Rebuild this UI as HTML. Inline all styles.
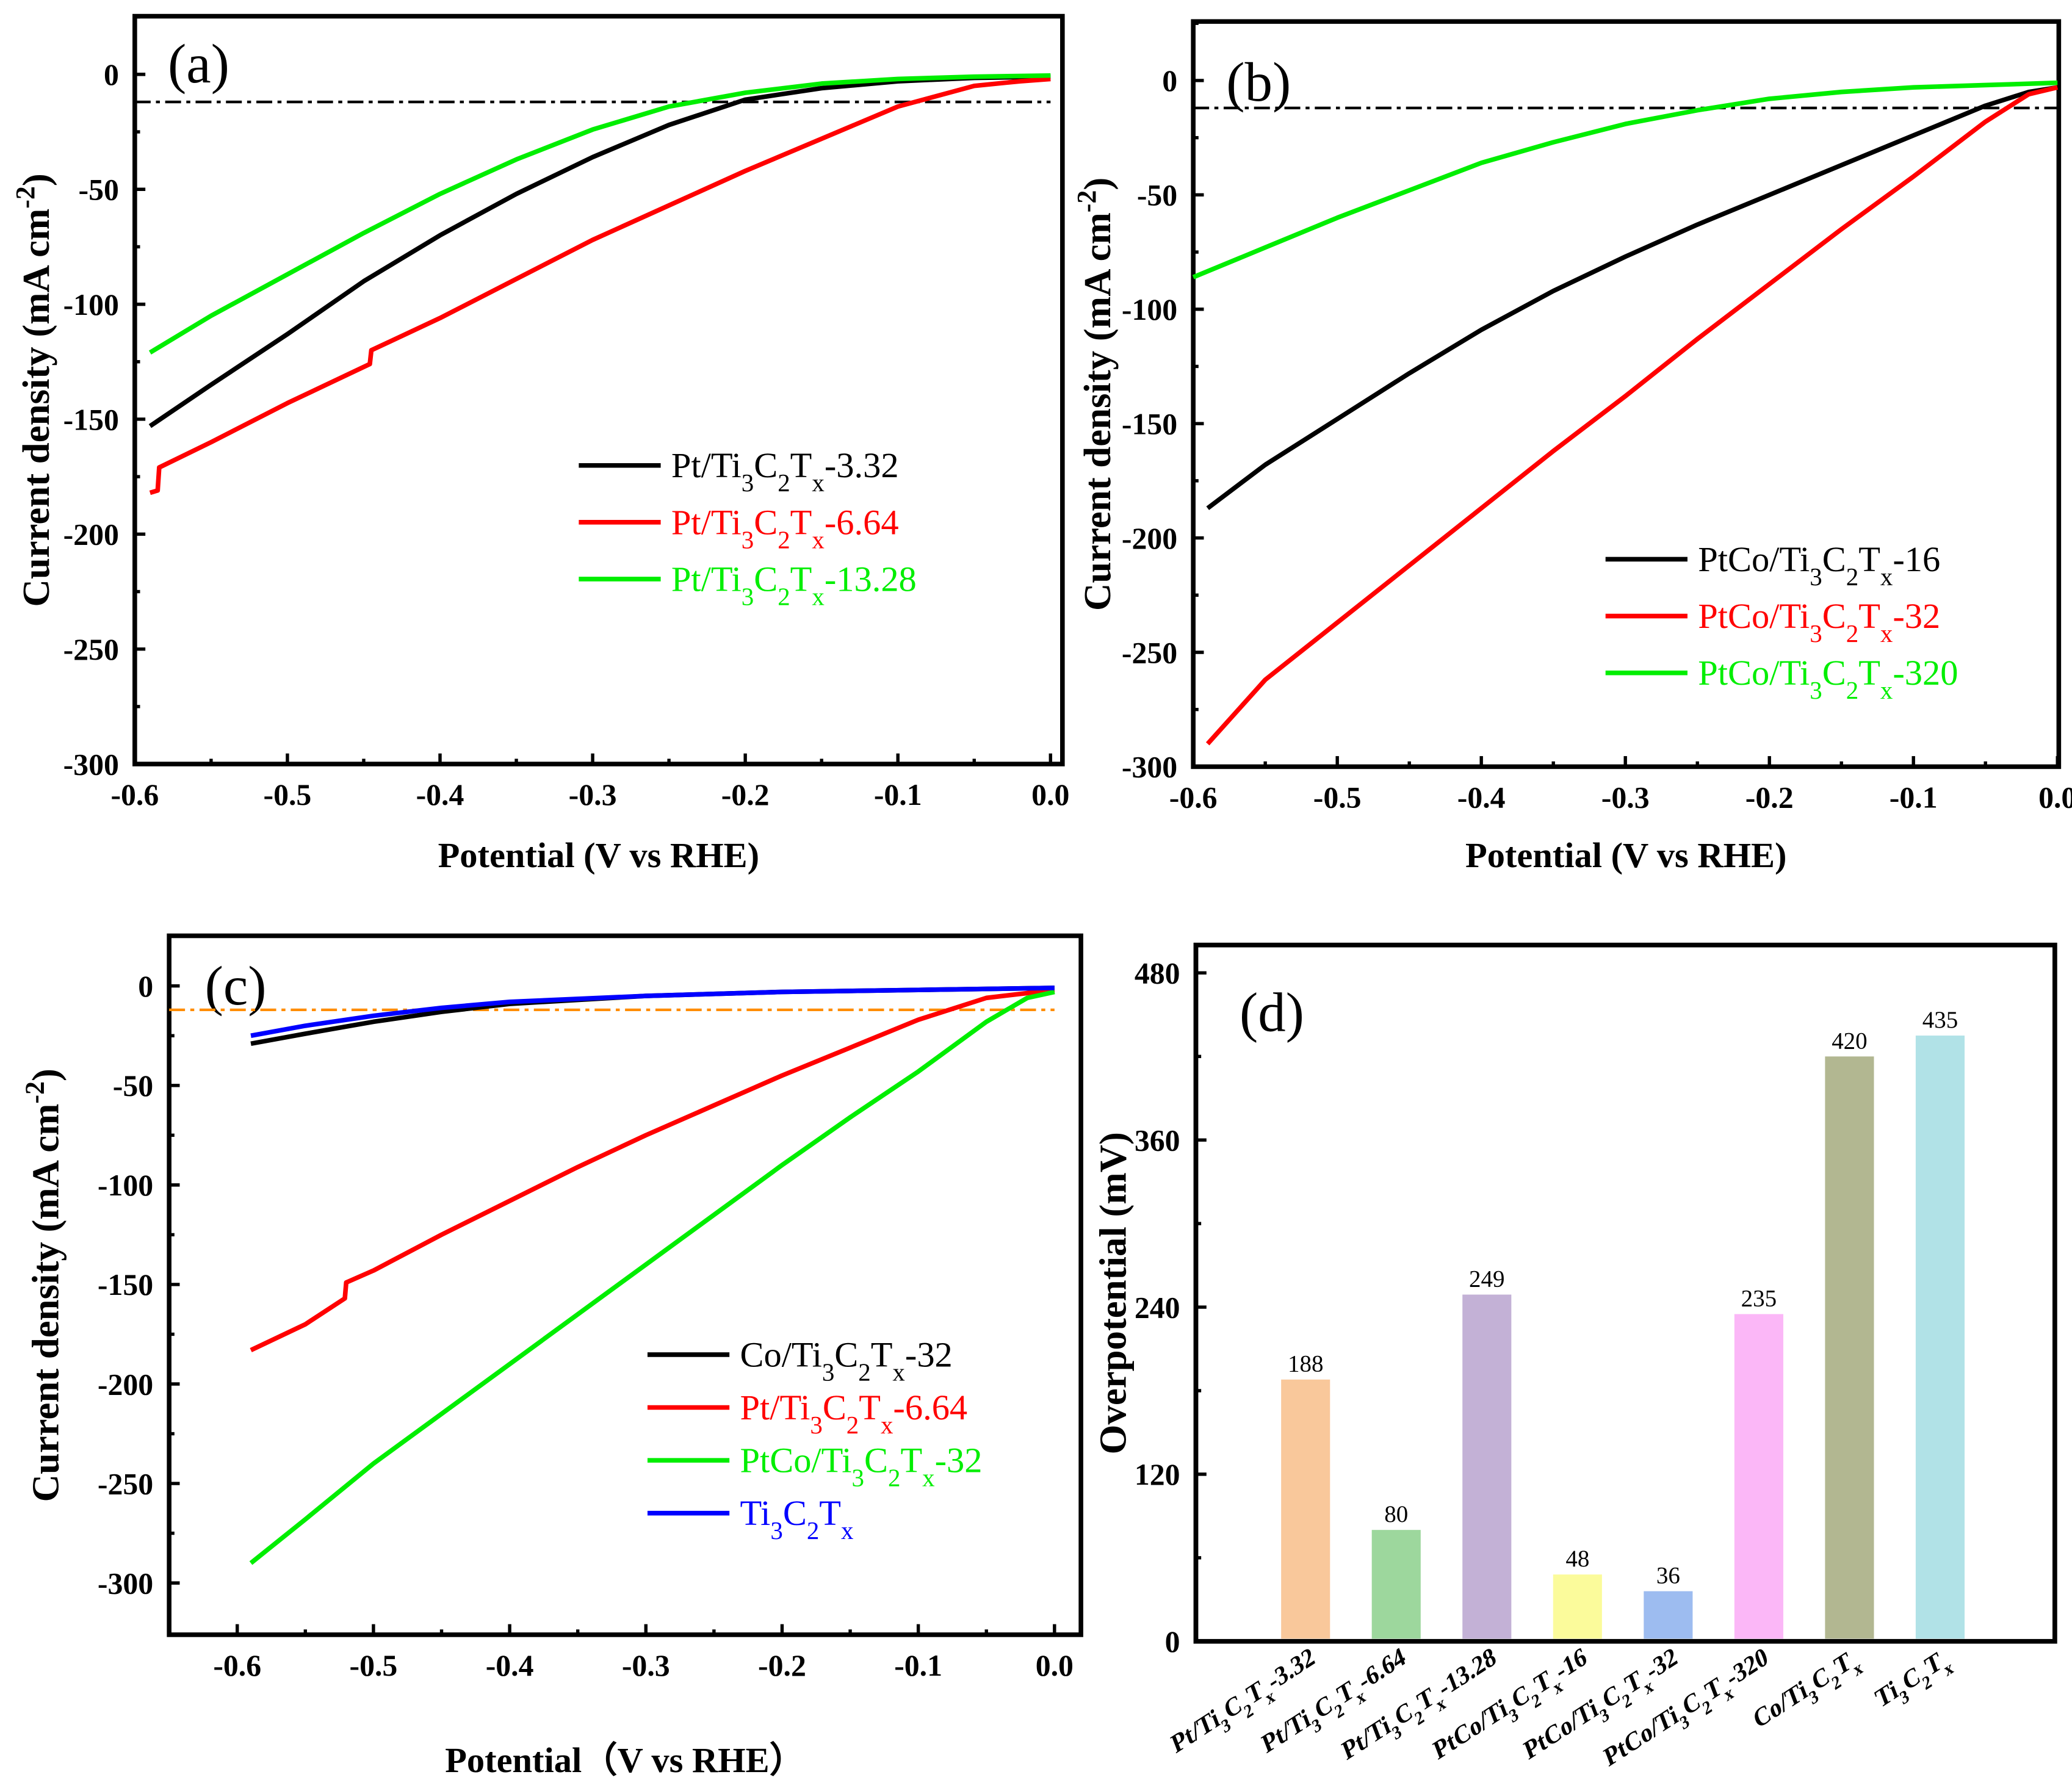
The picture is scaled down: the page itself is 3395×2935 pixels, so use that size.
<!DOCTYPE html>
<html><head><meta charset="utf-8"><style>
html,body{margin:0;padding:0;background:#fff}
svg{display:block;font-family:"Liberation Serif",serif}
svg text{font-family:"Liberation Serif",serif}
</style></head><body>
<svg id="fig" width="3395" height="2935" viewBox="0 0 1568 1355" font-family="Liberation Serif, serif" xmlns="http://www.w3.org/2000/svg"></svg>
<script>
// ---- data (a)
const aBlackX=[-0.59,-0.55,-0.5,-0.45,-0.4,-0.35,-0.3,-0.25,-0.2,-0.15,-0.1,-0.05,0];
const aBlackY=[-153,-135,-113,-90,-70,-52,-36,-22,-11,-6,-3,-1.5,-1];
const aRedX=[-0.59,-0.585,-0.584,-0.55,-0.5,-0.446,-0.445,-0.4,-0.35,-0.3,-0.25,-0.2,-0.15,-0.1,-0.05,-0.02,0];
const aRedY=[-182,-181,-171,-160,-143,-126,-120,-106,-89,-72,-57,-42,-28,-14,-5,-3,-2];
const aGreenX=[-0.59,-0.55,-0.5,-0.45,-0.4,-0.35,-0.3,-0.25,-0.2,-0.15,-0.1,-0.05,0];
const aGreenY=[-121,-105,-87,-69,-52,-37,-24,-14,-8,-4,-2,-1,-0.5];
// ---- data (b)
const bBlackX=[-0.59,-0.55,-0.5,-0.45,-0.4,-0.35,-0.3,-0.25,-0.2,-0.15,-0.1,-0.05,-0.02,0];
const bBlackY=[-187,-168,-148,-128,-109,-92,-77,-63,-50,-37,-24,-11,-5,-3];
const bRedX=[-0.59,-0.55,-0.5,-0.45,-0.4,-0.35,-0.3,-0.25,-0.2,-0.15,-0.1,-0.05,-0.02,0];
const bRedY=[-290,-262,-237,-212,-187,-162,-138,-113,-89,-65,-42,-18,-6,-3];
const bGreenX=[-0.6,-0.55,-0.5,-0.45,-0.4,-0.35,-0.3,-0.25,-0.2,-0.15,-0.1,-0.05,0];
const bGreenY=[-86,-73,-60,-48,-36,-27,-19,-13,-8,-5,-3,-2,-1];
// ---- data (c)
const cCoX=[-0.59,-0.55,-0.5,-0.45,-0.4,-0.3,-0.2,-0.1,0];
const cCoY=[-29,-24,-18,-13,-9,-5,-3,-2,-1];
const cTiX=[-0.59,-0.55,-0.5,-0.45,-0.4,-0.3,-0.2,-0.1,0];
const cTiY=[-25,-20,-15,-11,-8,-5,-3,-2,-1];
const cRedX=[-0.59,-0.55,-0.521,-0.52,-0.5,-0.45,-0.4,-0.35,-0.3,-0.25,-0.2,-0.15,-0.1,-0.05,0];
const cRedY=[-183,-170,-157,-149,-143,-125,-108,-91,-75,-60,-45,-31,-17,-6,-2];
const cGreenX=[-0.59,-0.55,-0.5,-0.45,-0.4,-0.35,-0.3,-0.25,-0.2,-0.15,-0.1,-0.05,-0.02,0];
const cGreenY=[-290,-268,-240,-215,-190,-165,-140,-115,-90,-66,-43,-18,-6,-3];
// ---- data (d)
const dCats=["Pt/Ti3C2Tx-3.32","Pt/Ti3C2Tx-6.64","Pt/Ti3C2Tx-13.28","PtCo/Ti3C2Tx-16","PtCo/Ti3C2Tx-32","PtCo/Ti3C2Tx-320","Co/Ti3C2Tx","Ti3C2Tx"];
const dVals=[188,80,249,48,36,235,420,435];
const dColors=["#f9c89b","#9dd79d","#c3b1d6","#fbfb9b","#9dbcf0","#fbb7f7","#b2b791","#b1e2e7"];
const dTicks=[0,120,240,360,480];

const NS="http://www.w3.org/2000/svg";
const svg=document.getElementById('fig');
function el(tag,attrs,parent){const e=document.createElementNS(NS,tag);for(const k in attrs)e.setAttribute(k,attrs[k]);if(tag==='text')e.setAttribute('font-family','Liberation Serif, serif');(parent||svg).appendChild(e);return e;}
function chem(s){return s.replace(/Ti3C2Tx/g,'Ti<tspan baseline-shift="sub" font-size="70%">3</tspan>C<tspan baseline-shift="sub" font-size="70%">2</tspan>T<tspan baseline-shift="sub" font-size="70%">x</tspan>');}

function panel(cfg){
  const g=el('g',{});
  
  
  const sx=v=>cfg.x0+(v-cfg.xmin)/(cfg.xmax-cfg.xmin)*(cfg.x1-cfg.x0);
  const sy=v=>cfg.y1-(v-cfg.ymin)/(cfg.ymax-cfg.ymin)*(cfg.y1-cfg.y0);
  cfg.sx=sx;cfg.sy=sy;cfg.g=g;
  if(cfg.xticks){cfg.xticks.forEach(t=>{const X=sx(t);
    const l=el('line',{x1:X,x2:X,y1:cfg.y1,y2:cfg.y1-8,stroke:'#000','stroke-width':2.5},g);
    
    const tx=el('text',{x:X,y:cfg.y1+31,'text-anchor':'middle','font-size':23,'font-weight':'bold'},g);tx.textContent=t.toFixed(1);
    });
    const st=(cfg.xticks[1]-cfg.xticks[0])/2;
    for(let t=cfg.xticks[0]+st;t<cfg.xmax;t+=2*st){const X=sx(t);el('line',{x1:X,x2:X,y1:cfg.y1,y2:cfg.y1-4,stroke:'#000','stroke-width':2.5},g);}
  }
  cfg.yticks.forEach(t=>{const Y=sy(t);
    const l=el('line',{x1:cfg.x0,x2:cfg.x0+8,y1:Y,y2:Y,stroke:'#000','stroke-width':2.5},g);
    
    const tx=el('text',{x:cfg.x0-12,y:Y+8,'text-anchor':'end','font-size':23,'font-weight':'bold'},g);tx.textContent=t;
    });
  const yst=(cfg.yticks[1]-cfg.yticks[0])/2;
  for(let t=cfg.yticks[0]+yst;t<cfg.ymax;t+=2*yst){const Y=sy(t);el('line',{x1:cfg.x0,x2:cfg.x0+4,y1:Y,y2:Y,stroke:'#000','stroke-width':2.5},g);}
  const f=el('rect',{x:cfg.x0,y:cfg.y0,width:cfg.x1-cfg.x0,height:cfg.y1-cfg.y0,fill:'none',stroke:'#000','stroke-width':3.5},g);
  
  const pl=el('text',{x:cfg.lx,y:cfg.ly,'font-size':42},g);pl.textContent=cfg.label;
  
  const yt=el('text',{x:0,y:0,'text-anchor':'middle','font-size':29,'font-weight':'bold',transform:`translate(${cfg.ytx},${(cfg.y0+cfg.y1)/2}) rotate(-90)`},g);
  yt.innerHTML=cfg.ytitle;
  if(cfg.xtitle){const xt=el('text',{x:(cfg.x0+cfg.x1)/2,y:cfg.xty,'text-anchor':'middle','font-size':27,'font-weight':'bold'},g);
    xt.textContent=cfg.xtitle;}
  return cfg;
}
function refline(p,val,color){const Y=p.sy(val);
  const l=el('line',{x1:p.x0,x2:p.sx(0),y1:Y,y2:Y,stroke:color,'stroke-width':2,'stroke-dasharray':'12,4,3,4'},p.g);
  }
function series(p,xs,ys,color,name){const d=xs.map((x,i)=>(i?'L':'M')+p.sx(x).toFixed(2)+','+p.sy(ys[i]).toFixed(2)).join('');
  const pa=el('path',{d:d,fill:'none',stroke:color,'stroke-width':3.5,'stroke-linejoin':'round'},p.g);
  }
function legend(p,x,y0,dy,items){items.forEach((it,i)=>{const y=y0+i*dy;
  const l=el('line',{x1:x,x2:x+62,y1:y,y2:y,stroke:it[1],'stroke-width':3.5},p.g);
  
  const t=el('text',{x:x+70,y:y+9,'font-size':27,fill:it[1]==='#000000'?'#000':it[1]},p.g);t.innerHTML=chem(it[0]);
  });}

const YT='Current density (mA cm<tspan baseline-shift="super" font-size="70%">-2</tspan>)';
const pa=panel({name:'panel-a',x0:102,x1:804,y0:12,y1:578,xmin:-0.6,xmax:0.0078,ymin:-300,ymax:25.3,
  xticks:[-0.6,-0.5,-0.4,-0.3,-0.2,-0.1,0.0],yticks:[-300,-250,-200,-150,-100,-50,0],label:'(a)',lx:127,ly:62,ytitle:YT,ytx:37,xtitle:'Potential (V vs RHE)',xty:656});
refline(pa,-12,'#000');
series(pa,aBlackX,aBlackY,'#000','series-pt-3.32');
series(pa,aRedX,aRedY,'#ff0000','series-pt-6.64');
series(pa,aGreenX,aGreenY,'#00ee00','series-pt-13.28');
legend(pa,438,352,43,[['Pt/Ti3C2Tx-3.32','#000000'],['Pt/Ti3C2Tx-6.64','#ff0000'],['Pt/Ti3C2Tx-13.28','#00ee00']]);

const pb=panel({name:'panel-b',x0:903,x1:1558,y0:16,y1:580,xmin:-0.6,xmax:0.0009,ymin:-300,ymax:25.8,
  xticks:[-0.6,-0.5,-0.4,-0.3,-0.2,-0.1,0.0],yticks:[-300,-250,-200,-150,-100,-50,0],label:'(b)',lx:928,ly:76,ytitle:YT,ytx:840,xtitle:'Potential (V vs RHE)',xty:656});
refline(pb,-12,'#000');
series(pb,bBlackX,bBlackY,'#000','series-ptco-16');
series(pb,bRedX,bRedY,'#ff0000','series-ptco-32');
series(pb,bGreenX,bGreenY,'#00ee00','series-ptco-320');
legend(pb,1215,423,43,[['PtCo/Ti3C2Tx-16','#000000'],['PtCo/Ti3C2Tx-32','#ff0000'],['PtCo/Ti3C2Tx-320','#00ee00']]);

const pc=panel({name:'panel-c',x0:128,x1:818,y0:708,y1:1237,xmin:-0.65,xmax:0.0194,ymin:-326,ymax:25.2,
  xticks:[-0.6,-0.5,-0.4,-0.3,-0.2,-0.1,0.0],yticks:[-300,-250,-200,-150,-100,-50,0],label:'(c)',lx:155,ly:760,ytitle:YT,ytx:44,xtitle:'Potential（V vs RHE）',xty:1341});
refline(pc,-12,'#ff8c00');
series(pc,cCoX,cCoY,'#000','series-co-32');
series(pc,cRedX,cRedY,'#ff0000','series-pt-6.64');
series(pc,cGreenX,cGreenY,'#00ee00','series-ptco-32');
series(pc,cTiX,cTiY,'#0000ff','series-ti3c2tx');
legend(pc,490,1025,40,[['Co/Ti3C2Tx-32','#000000'],['Pt/Ti3C2Tx-6.64','#ff0000'],['PtCo/Ti3C2Tx-32','#00ee00'],['Ti3C2Tx','#0000ff']]);

const pd=panel({name:'panel-d',x0:905,x1:1555,y0:715,y1:1242,xmin:0,xmax:9.475,ymin:0,ymax:500,
  yticks:dTicks,label:'(d)',lx:938,ly:780,ytitle:'Overpotential (mV)',ytx:852});
const bw=37;
dVals.forEach((v,i)=>{const cx=pd.sx(i+1.21);
  const r=el('rect',{x:cx-bw/2,y:pd.sy(v),width:bw,height:pd.sy(0)-pd.sy(v)-2,fill:dColors[i]},pd.g);
  
  const t=el('text',{x:cx,y:pd.sy(v)-6,'text-anchor':'middle','font-size':18},pd.g);t.textContent=v;
  
  const lb=el('text',{x:0,y:0,'text-anchor':'end','font-size':19,'font-weight':'bold',transform:`translate(${cx+8},${1258}) rotate(-33) skewX(-12)`},pd.g);
  lb.innerHTML=chem(dCats[i]);
});
el('rect',{x:905,y:715,width:650,height:527,fill:'none',stroke:'#000','stroke-width':3.5},pd.g);
</script>
</body></html>
